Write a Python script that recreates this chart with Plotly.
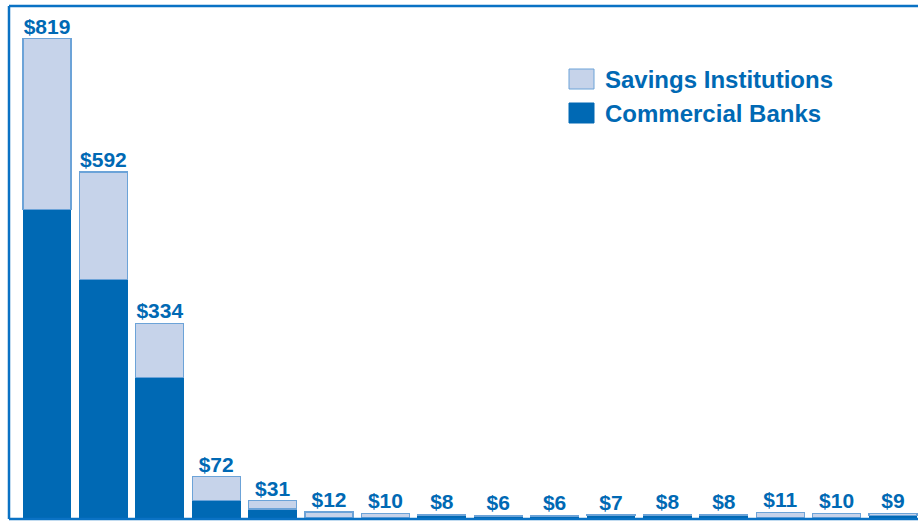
import plotly.graph_objects as go

# values in $
categories = [str(i) for i in range(1, 17)]
commercial_banks = [528, 408, 241, 32, 17, 3, 3, 6, 5, 5, 6, 6, 6, 3, 3, 6]
savings_institutions = [291, 184, 93, 40, 14, 9, 7, 2, 1, 1, 1, 2, 2, 8, 7, 3]
totals = [c + s for c, s in zip(commercial_banks, savings_institutions)]
labels = ['$' + str(t) for t in totals]

dark = '#0069B4'
light = '#C6D3EA'
edge = '#6CA3D8'
frame = '#0A72C4'
font = 'Liberation Sans, Arial, sans-serif'

margin = go.layout.Margin(l=9, r=0, b=2, t=6, pad=0)

data = [
    go.Bar(x=categories, y=commercial_banks, name='Commercial Banks',
           marker=dict(color=dark, line=dict(color=dark, width=1))),
    go.Bar(x=categories, y=savings_institutions, name='Savings Institutions',
           marker=dict(color=light, line=dict(color=edge, width=1.2))),
    go.Scatter(x=categories, y=totals, mode='text', text=labels,
               textposition='top center', cliponaxis=False,
               textfont=dict(family=font, size=21, color=dark, weight='bold'),
               hoverinfo='skip'),
]

layout = go.Layout(
    width=918, height=521,
    barmode='stack', bargap=0.15,
    showlegend=False,
    paper_bgcolor='white', plot_bgcolor='white',
    margin=margin,
    xaxis=dict(visible=False, range=[-0.674, 15.443]),
    yaxis=dict(visible=False, range=[0, 875]),
)

fig = go.Figure(data=data, layout=layout)

# frame: left, top and bottom only
for x0, y0, x1, y1 in [(0, 0, 0, 1), (0, 1, 1, 1), (0, 0, 1, 0)]:
    fig.add_shape(type='line', xref='paper', yref='paper', x0=x0, y0=y0,
                  x1=x1, y1=y1, line=dict(color=frame, width=2.5))

# hand drawn legend with large swatches
legend_items = [('Savings Institutions', light, edge, 79),
                ('Commercial Banks', dark, dark, 113)]
for name, fill, line, ypix in legend_items:
    fig.add_shape(type='rect', xref='paper', yref='paper',
                  x0=(569 - 9) / 909, x1=(594 - 9) / 909,
                  y0=(519 - ypix - 10) / 513, y1=(519 - ypix + 10) / 513,
                  fillcolor=fill, line=dict(color=line, width=1))
    fig.add_annotation(xref='paper', yref='paper', x=(603 - 9) / 909,
                       y=(519 - ypix) / 513, xanchor='left', yanchor='middle',
                       text=name, showarrow=False,
                       font=dict(family=font, size=24, color=dark, weight='bold'))

fig.write_html("out.html", config={'displayModeBar': False},
               post_script="document.body.style.margin='0';document.body.style.overflow='hidden';")
